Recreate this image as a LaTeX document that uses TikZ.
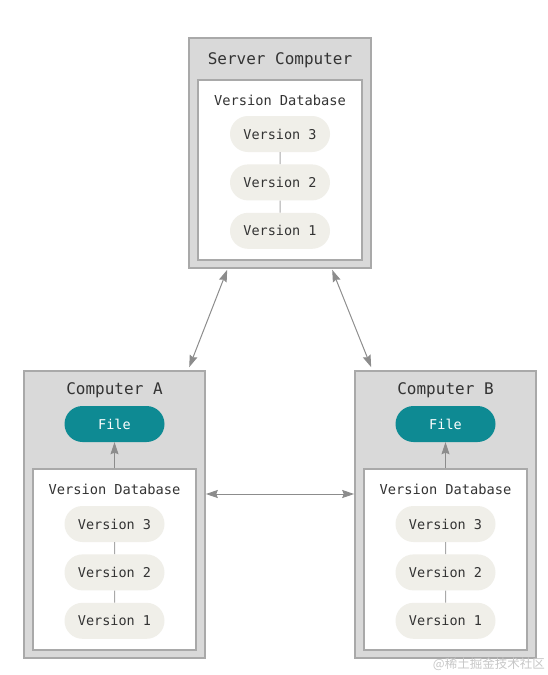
\documentclass[tikz,border=0pt]{standalone}
\usepackage{fontspec}
\setmonofont{DejaVu Sans Mono}
\newfontfamily\cjkfont{Noto Sans CJK SC}
\usepackage{xcolor}
\usetikzlibrary{arrows.meta,positioning,shapes.misc}
\definecolor{framegray}{HTML}{D9D9D9}
\definecolor{edgegray}{HTML}{A9A9A9}
\definecolor{pillfill}{HTML}{F0EFE9}
\definecolor{fileteal}{HTML}{0E8A93}
\definecolor{inkgray}{HTML}{333333}
\definecolor{arrowgray}{HTML}{8C8C8C}

\begin{document}
\begin{tikzpicture}[
  x=1pt, y=-1pt,
  node distance=12pt,
  outer/.style={draw=edgegray, line width=1.6pt, fill=framegray, inner sep=0pt},
  inner/.style={draw=edgegray, line width=1.2pt, fill=white, inner sep=0pt},
  title/.style={font=\ttfamily\fontsize{16}{19}\selectfont, text=inkgray, inner sep=0pt},
  dbtitle/.style={font=\ttfamily\fontsize{13.7}{16}\selectfont, text=inkgray, inner sep=0pt},
  pill/.style={rounded rectangle, fill=pillfill, minimum width=100pt, minimum height=36pt,
    inner sep=0pt, font=\ttfamily\fontsize{13.5}{16}\selectfont, text=inkgray},
  filepill/.style={pill, fill=fileteal, text=white},
  link/.style={draw=edgegray, line width=1pt},
  arr/.style={draw=arrowgray, line width=1pt, {Stealth[length=12pt,width=8pt,inset=1.5pt]}-{Stealth[length=12pt,width=8pt,inset=1.5pt]}},
  uparr/.style={draw=arrowgray, line width=1pt, -{Stealth[length=12pt,width=8pt,inset=1.5pt]}}
]
\useasboundingbox (0,0) rectangle (548,675);

% server
\node[outer, minimum width=182pt, minimum height=230pt] (srv) at (280,153) {};
\node[title] (srvtitle) at (280,60) {Server Computer};
\node[inner, minimum width=164pt, minimum height=180pt] (srvdb) at (280,170) {};
\node[dbtitle] (srvdbtitle) at (280,100) {Version Database};
\node[pill] (s3) at (280,134) {Version 3};
\node[pill, below=of s3] (s2) {Version 2};
\node[pill, below=of s2] (s1) {Version 1};
\draw[link] (s3) -- (s2);
\draw[link] (s2) -- (s1);

% computer A
\node[outer, minimum width=181pt, minimum height=287pt] (ca) at (114.5,514.5) {};
\node[title] (catitle) at (114.5,390) {Computer A};
\node[filepill] (afile) at (114.5,424) {File};
\node[inner, minimum width=163pt, minimum height=181pt] (adb) at (114.5,559.5) {};
\node[dbtitle] (adbtitle) at (114.5,489) {Version Database};
\node[pill] (a3) at (114.5,524) {Version 3};
\node[pill, below=of a3] (a2) {Version 2};
\node[pill, below=of a2] (a1) {Version 1};
\draw[link] (a3) -- (a2);
\draw[link] (a2) -- (a1);
\draw[uparr] (adb.north) -- (afile.south);

% computer B
\node[outer, minimum width=181pt, minimum height=287pt] (cb) at (445.5,514.5) {};
\node[title] (cbtitle) at (445.5,390) {Computer B};
\node[filepill] (bfile) at (445.5,424) {File};
\node[inner, minimum width=163pt, minimum height=181pt] (bdb) at (445.5,559.5) {};
\node[dbtitle] (bdbtitle) at (445.5,489) {Version Database};
\node[pill] (b3) at (445.5,524) {Version 3};
\node[pill, below=of b3] (b2) {Version 2};
\node[pill, below=of b2] (b1) {Version 1};
\draw[link] (b3) -- (b2);
\draw[link] (b2) -- (b1);
\draw[uparr] (bdb.north) -- (bfile.south);

% syncing
\draw[arr] ([xshift=39pt,yshift=-1pt]srv.south west) -- ([xshift=166pt,yshift=3pt]ca.north west);
\draw[arr] ([xshift=144pt,yshift=-1pt]srv.south west) -- ([xshift=17pt,yshift=3pt]cb.north west);
\draw[arr] ([yshift=20.5pt]ca.east) -- ([yshift=20.5pt]cb.west);

\node[font=\cjkfont\fontsize{12.5}{14}\selectfont, text=black!22, anchor=east, inner sep=0pt] (mark) at (545,664) {@稀土掘金技术社区};
\end{tikzpicture}
\end{document}
